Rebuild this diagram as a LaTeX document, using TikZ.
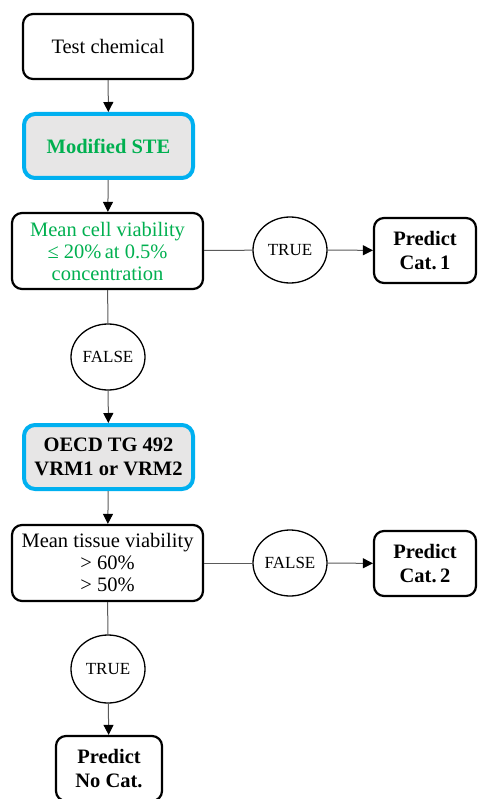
\documentclass[tikz,border=0pt]{standalone}
\usepackage{fontspec}
\setmainfont{Liberation Serif}
\usetikzlibrary{shapes.geometric,arrows.meta}
\definecolor{stegreen}{RGB}{0,176,80}
\definecolor{hiblue}{RGB}{0,176,240}
\definecolor{boxgray}{RGB}{231,230,230}
\definecolor{conn}{RGB}{90,90,90}
\begin{document}
\begin{tikzpicture}[x={(1pt,0)},y={(0,-1pt)},
  mainfont/.style={font=\fontsize{20.5}{22}\selectfont},
  boldfont/.style={font=\fontsize{20.5}{24.5}\selectfont\bfseries},
  plainbox/.style={draw=black,line width=2.2pt,rounded corners=10pt,fill=white,
    align=center,inner sep=0pt,mainfont},
  bluebox/.style={draw=hiblue,line width=4pt,rounded corners=11pt,fill=boxgray,
    align=center,inner sep=0pt,boldfont},
  predbox/.style={plainbox,boldfont},
  decision/.style={ellipse,draw=black,line width=1.3pt,fill=white,inner sep=0pt,
    minimum width=74pt,minimum height=66pt,font=\fontsize{17}{19}\selectfont},
  link/.style={draw=conn,line width=1pt},
  arrowlink/.style={link,-{Triangle[length=10pt,width=10pt,color=black]}}
]
\useasboundingbox (0,0) rectangle (478,799);

\node[plainbox,minimum width=170pt,minimum height=65pt] (test) at (108,46.5) {Test chemical};
\node[bluebox,minimum width=169pt,minimum height=64pt,text=stegreen] (ste) at (108.5,146) {Modified STE};
\node[plainbox,minimum width=191pt,minimum height=76pt,text=stegreen] (cell) at (107.5,251)
  {Mean cell viability\\≤ 20\%\,at 0.5\%\\concentration};
\node[decision] (t1) at (290,250) {TRUE};
\node[predbox,minimum width=102pt,minimum height=65pt] (cat1) at (425,250.5) {Predict\\Cat.\,1};
\node[decision] (f1) at (108,357) {FALSE};
\node[bluebox,minimum width=169pt,minimum height=64pt] (oecd) at (108.5,457) {OECD TG 492\\VRM1 or VRM2};
\node[plainbox,minimum width=191pt,minimum height=76pt] (tissue) at (107.5,563)
  {Mean tissue viability\\> 60\%\\> 50\%};
\node[decision] (f2) at (290,563) {FALSE};
\node[predbox,minimum width=102pt,minimum height=65pt] (cat2) at (425,563.5) {Predict\\Cat.\,2};
\node[decision,minimum height=68pt] (t2) at (108,669) {TRUE};
\node[predbox,minimum width=106pt,minimum height=65pt] (nocat) at (109,768.5) {Predict\\No Cat.};

\draw[arrowlink] (test) -- (ste);
\draw[arrowlink] (ste) -- (cell);
\draw[link] (cell) -- (t1);
\draw[arrowlink] (t1) -- (cat1);
\draw[link] (cell) -- (f1);
\draw[arrowlink] (f1) -- (oecd);
\draw[arrowlink] (oecd) -- (tissue);
\draw[link] (tissue) -- (f2);
\draw[arrowlink] (f2) -- (cat2);
\draw[link] (tissue) -- (t2);
\draw[arrowlink] (t2) -- (nocat);
\end{tikzpicture}
\end{document}
